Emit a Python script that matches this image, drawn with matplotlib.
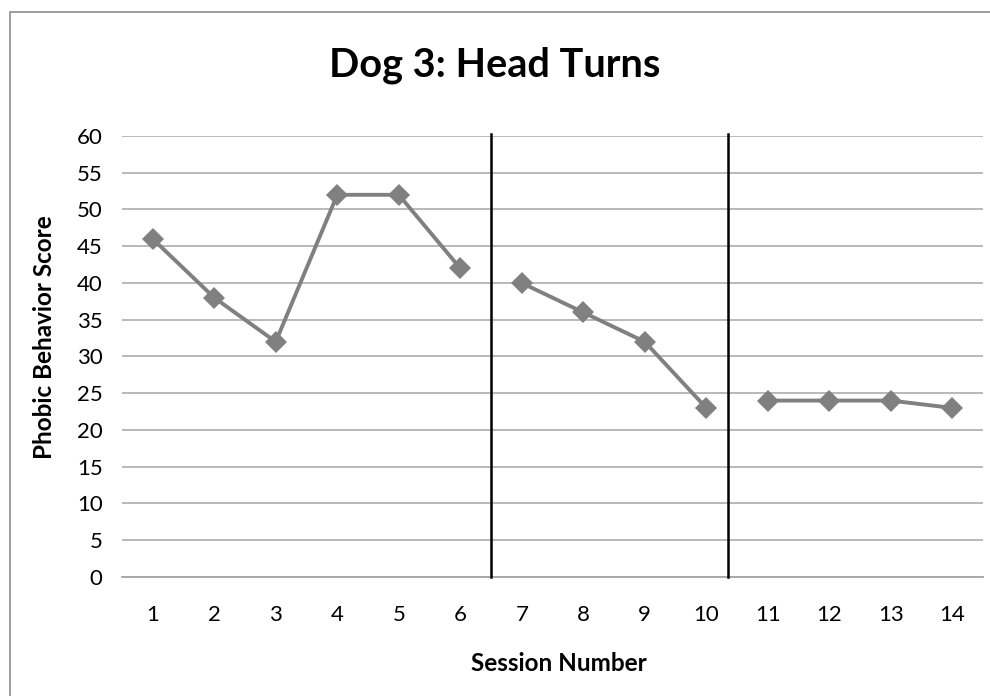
import matplotlib
matplotlib.use("Agg")
import matplotlib.pyplot as plt
from matplotlib.patches import Rectangle

# session scores, split by phase
sessions = list(range(1, 15))
scores = [46, 38, 32, 52, 52, 42, 40, 36, 32, 23, 24, 24, 24, 23]
phases = [(0, 6), (6, 10), (10, 14)]
phase_lines = [6.5, 10.35]
y_ticks = list(range(0, 61, 5))

plt.rcParams['font.family'] = ['Lato', 'DejaVu Sans']

fig = plt.figure(figsize=(9.9, 6.96), dpi=100)
ax = fig.add_axes([0.1232, 0.171, 0.8698, 0.6336])

# outer chart border (cut off at right/bottom like the reference)
fig.patches.append(Rectangle((10 / 990, -0.05), 1.1, 1 - 12 / 696 + 0.05,
                             transform=fig.transFigure, fill=False,
                             edgecolor='#8c8c8c', linewidth=1.2))

for a, b in phases:
    ax.plot(sessions[a:b], scores[a:b], color='#808080', linewidth=2.8,
            marker='D', markersize=11.5, markeredgewidth=0, zorder=3)

for x in phase_lines:
    ax.axvline(x, ymax=1.005, color='black', linewidth=1.8, zorder=4, clip_on=False)

ax.set_xlim(0.5, 14.5)
ax.set_ylim(0, 60)
ax.set_xticks(sessions)
ax.set_yticks(y_ticks)
ax.tick_params(axis='both', length=0, labelsize=16, colors='black')
ax.tick_params(axis='x', pad=20)
ax.tick_params(axis='y', pad=14)
ax.grid(axis='y', color='#a6a6a6', linewidth=1.1)
ax.set_axisbelow(True)
for s in ['top', 'right', 'left']:
    ax.spines[s].set_visible(False)
ax.spines['bottom'].set_color('#a6a6a6')
ax.spines['bottom'].set_linewidth(1.3)

fig.text(0.5, 1 - 76 / 696, 'Dog 3: Head Turns', fontsize=28.5,
         fontweight='bold', ha='center', va='baseline')
fig.text(559 / 990, 1 - 671 / 696, 'Session Number', fontsize=17.5,
         fontweight='bold', ha='center', va='baseline')
fig.text(45 / 990, 1 - 337 / 696, 'Phobic Behavior Score', fontsize=17.5,
         fontweight='bold', ha='center', va='center', rotation=90)

fig.savefig('out.png', dpi=100)
